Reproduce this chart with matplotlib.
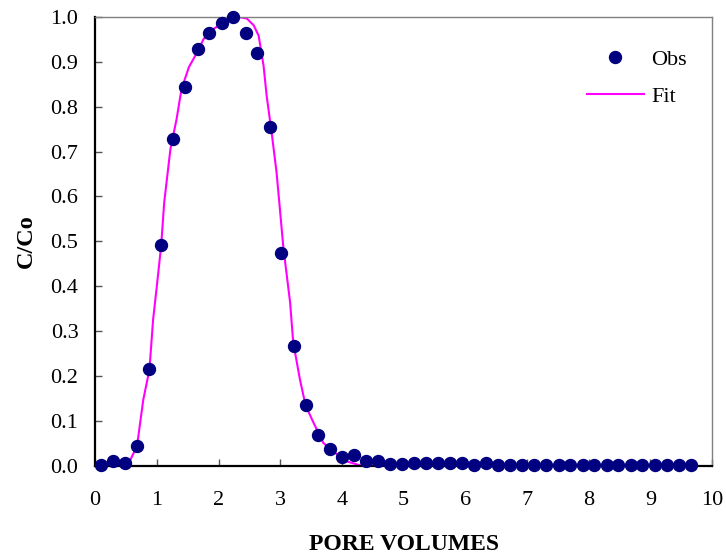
import matplotlib
matplotlib.use('Agg')
import matplotlib.pyplot as plt

plt.rc('font', family=['Liberation Serif', 'DejaVu Serif'], size=14)

# observed data (pore volumes vs C/Co)
obs_pv = [0.10, 0.29, 0.49, 0.68, 0.88, 1.07, 1.27, 1.46, 1.66, 1.85,
          2.05, 2.24, 2.44, 2.63, 2.83, 3.02, 3.22, 3.41, 3.61, 3.80,
          4.00, 4.19, 4.39, 4.58, 4.78, 4.97, 5.17, 5.36, 5.56, 5.75,
          5.95, 6.14, 6.34, 6.53, 6.73, 6.92, 7.12, 7.31, 7.51, 7.70,
          7.90, 8.09, 8.29, 8.48, 8.68, 8.87, 9.07, 9.26, 9.46, 9.65]
obs_c = [0.002, 0.010, 0.006, 0.045, 0.215, 0.492, 0.728, 0.844, 0.929, 0.965,
         0.987, 1.000, 0.965, 0.920, 0.755, 0.474, 0.268, 0.135, 0.068, 0.037,
         0.019, 0.024, 0.011, 0.011, 0.005, 0.005, 0.006, 0.006, 0.006, 0.006,
         0.006, 0.001, 0.006, 0.001, 0.001, 0.001, 0.001, 0.001, 0.001, 0.001,
         0.001, 0.001, 0.001, 0.001, 0.001, 0.001, 0.001, 0.001, 0.001, 0.001]

# fitted curve
fit_pv = [0.10, 0.30, 0.50, 0.57, 0.68, 0.78, 0.88, 0.94, 1.00, 1.07,
          1.12, 1.22, 1.32, 1.40, 1.52, 1.65, 1.76, 1.92, 2.13, 2.35,
          2.46, 2.57, 2.65, 2.73, 2.78, 2.86, 2.94, 2.99, 3.05, 3.16,
          3.21, 3.32, 3.41, 3.54, 3.70, 3.86, 4.08, 4.30, 4.60, 5.00,
          6.00, 7.00, 8.00, 9.00, 9.65]
fit_c = [0.000, 0.001, 0.004, 0.013, 0.045, 0.147, 0.214, 0.326, 0.400, 0.490,
         0.587, 0.705, 0.772, 0.839, 0.888, 0.920, 0.951, 0.973, 0.992, 0.999,
         0.996, 0.981, 0.958, 0.891, 0.824, 0.743, 0.654, 0.579, 0.487, 0.364,
         0.275, 0.192, 0.135, 0.096, 0.051, 0.032, 0.010, 0.001, 0.000, 0.000,
         0.000, 0.000, 0.000, 0.000, 0.000]

xticks = list(range(0, 11))
yticks = [0.0, 0.1, 0.2, 0.3, 0.4, 0.5, 0.6, 0.7, 0.8, 0.9, 1.0]

fig = plt.figure(figsize=(7.26, 5.6), dpi=100)
ax = fig.add_axes([0.131, 0.168, 0.850, 0.802])

ax.plot(obs_pv, obs_c, 'o', color='#000080', markersize=8.6, label='Obs',
        zorder=3, clip_on=False)
ax.plot(fit_pv, fit_c, '-', color='#FF00FF', linewidth=1.5, label='Fit', zorder=2)

ax.set_xlim(0, 10)
ax.set_ylim(0, 1.0)
ax.set_xticks(xticks)
ax.set_yticks(yticks)
ax.set_yticklabels([f'{v:.1f}' for v in yticks])
ax.tick_params(direction='in', length=5, width=1, color='#555555', labelsize=16)
ax.tick_params(axis='x', pad=18)
ax.tick_params(axis='y', pad=12)

for side in ['left', 'bottom']:
    ax.spines[side].set_linewidth(1.6)
    ax.spines[side].set_color('black')
for side in ['top', 'right']:
    ax.spines[side].set_linewidth(1.0)
    ax.spines[side].set_color('#808080')

ax.set_xlabel('PORE VOLUMES', fontsize=17, fontweight='bold', labelpad=17)
ax.set_ylabel('C/Co', fontsize=17.5, fontweight='bold', labelpad=10)

ax.legend(loc='upper right', bbox_to_anchor=(0.991, 0.972), frameon=False,
          fontsize=16, handlelength=2.6, labelspacing=0.75, handletextpad=0.3)

fig.savefig('out.png', dpi=100)
